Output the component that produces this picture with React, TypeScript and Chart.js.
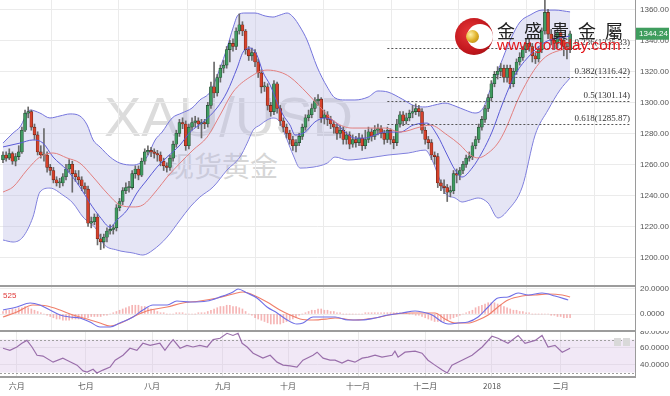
import React, { useEffect, useRef } from 'react';
import { Chart, registerables } from 'chart.js';
Chart.register(...registerables);

// ---------- data ----------
const FIRST_OPEN = 1263;
const closes = [
  1266,1264,1267,1262,1265,1268,1282,1293,1294,1284,
  1279,1268,1266,1266,1258,1256,1250,1248,1248,1252,
  1257,1260,1254,1252,1250,1246,1244,1222,1223,1226,
  1212,1210,1213,1217,1218,1219,1232,1236,1243,1245,
  1245,1254,1257,1253,1262,1268,1269,1268,1267,1266,
  1262,1259,1258,1264,1273,1280,1287,1286,1272,1284,
  1287,1288,1286,1287,1286,1298,1310,1306,1316,1322,
  1324,1334,1338,1336,1346,1350,1346,1334,1330,1332,
  1326,1319,1310,1310,1298,1294,1312,1296,1288,1284,
  1280,1276,1272,1274,1278,1284,1290,1292,1296,1301,
  1302,1290,1292,1289,1286,1284,1280,1282,1276,1279,
  1273,1276,1274,1277,1272,1276,1281,1278,1282,1283,
  1280,1276,1282,1276,1274,1286,1292,1288,1290,1293,
  1294,1296,1294,1282,1276,1274,1266,1265,1248,1246,
  1245,1242,1243,1254,1253,1256,1260,1264,1265,1272,
  1276,1284,1289,1296,1303,1312,1318,1320,1322,1316,
  1322,1312,1320,1326,1329,1334,1338,1336,1330,1328,
  1334,1346,1358,1344,1340,1338,1345,1340,1336,1334,
  1344.24,
];
const highs = [
  1268,1268,1270,1268,1267,1272,1284,1295,1297,1295,
  1286,1281,1272,1283,1268,1260,1258,1252,1251,1254,
  1260,1263,1262,1256,1256,1252,1248,1246,1226,1228,
  1228,1215,1215,1219,1221,1221,1234,1238,1245,1248,
  1249,1256,1259,1259,1264,1270,1272,1271,1270,1269,
  1268,1264,1261,1266,1275,1282,1289,1290,1288,1286,
  1290,1291,1290,1289,1289,1300,1313,1326,1318,1324,
  1327,1336,1340,1341,1348,1357,1352,1347,1336,1335,
  1334,1328,1321,1313,1312,1300,1314,1313,1298,1290,
  1286,1282,1278,1276,1280,1286,1292,1295,1299,1303,
  1305,1303,1295,1294,1291,1288,1286,1285,1284,1281,
  1281,1279,1278,1280,1279,1282,1284,1283,1285,1286,
  1285,1282,1284,1283,1278,1289,1294,1294,1293,1295,
  1298,1299,1298,1296,1284,1278,1276,1268,1267,1250,
  1250,1247,1246,1256,1257,1258,1262,1266,1268,1274,
  1278,1286,1291,1298,1305,1314,1320,1323,1325,1324,
  1324,1324,1322,1328,1332,1336,1341,1341,1338,1332,
  1336,1348,1366,1360,1347,1343,1348,1347,1342,1338,
  1346,
];
const lows = [
  1261,1262,1263,1260,1259,1263,1267,1281,1290,1282,
  1276,1266,1264,1262,1255,1253,1248,1246,1245,1246,
  1250,1255,1242,1249,1247,1243,1241,1220,1219,1221,
  1208,1205,1206,1210,1215,1215,1217,1230,1234,1241,
  1242,1244,1251,1250,1252,1260,1266,1265,1264,1262,
  1259,1256,1255,1256,1262,1271,1278,1283,1269,1270,
  1282,1284,1283,1277,1283,1284,1296,1303,1304,1313,
  1319,1322,1326,1333,1334,1344,1343,1331,1327,1327,
  1323,1316,1306,1307,1295,1291,1292,1293,1285,1281,
  1277,1273,1269,1268,1272,1276,1282,1288,1290,1294,
  1298,1287,1286,1285,1283,1280,1276,1277,1273,1273,
  1270,1271,1271,1272,1269,1270,1274,1275,1276,1279,
  1277,1273,1274,1273,1270,1272,1284,1285,1286,1288,
  1290,1292,1291,1280,1273,1270,1263,1260,1245,1243,
  1241,1236,1239,1241,1248,1250,1254,1258,1262,1263,
  1270,1274,1282,1287,1294,1301,1310,1315,1317,1313,
  1313,1309,1310,1318,1324,1327,1332,1333,1326,1325,
  1326,1332,1344,1341,1337,1334,1335,1337,1330,1328,
  1332,
];

// Bollinger upper / lower, middle (red) and short MA (blue): [candle index, price]
const bbUpperIdx = [0,3.2,5.4,8.6,11.7,14.9,18.1,21.3,24.4,26.7,28.6,30.8,34,37.1,41.3,43.5,45.7,48.3,50.5,53.7,56.8,60,62.5,65.7,68.9,71.1,73,74.6,76.8,80,83.2,85.7,87.9,90.2,92.1,94.3,96.5,99.7,102.9,105.4,108.6,111.7,115.9,119,122.2,126.7,130.8,134,137.1,140.3,143.5,146.7,149.8,152.4,154.6,157.8,161,164.1,167.3,171.1,175.2,180];
const bbUpperVal = [1273.7,1280.2,1284.1,1295,1293.1,1289.9,1291.2,1292.5,1291.2,1285.4,1275.7,1271.2,1264.7,1260.8,1259.5,1260.8,1264.7,1275.7,1280.8,1289.9,1293.1,1296.3,1301.5,1306.6,1322.1,1335,1347.9,1356.3,1357.6,1357.6,1355.7,1355,1356.3,1357.6,1355,1348.6,1340.2,1322.8,1309.9,1302.8,1301.5,1301.5,1303.4,1307.3,1306.6,1302.1,1297.6,1297,1298.3,1299.5,1297.6,1295,1293.1,1296.3,1307.9,1324,1340.2,1351.8,1356.3,1359.5,1359.5,1358.3];
const bbLowerIdx = [0,3.2,6.3,9.5,11.7,14.9,19,22.2,25.4,29.8,31.7,36.2,41.3,44.4,47.6,52.1,56.2,59.4,62.5,66.7,71.1,75.2,77.5,79.4,81.6,83.8,85.7,87.9,90.2,92.1,94.3,98.4,102.9,105.4,109.5,115.9,122.2,128.6,134,136.2,138.1,140.3,143.5,145.7,148.3,150.8,154,157.1,160.3,164.8,168.9,173,176.8,180];
const bbLowerVal = [1211.2,1209.9,1213.1,1226,1242.1,1244.7,1240.2,1235,1226,1217.6,1209.2,1204.7,1202.8,1201.5,1204.7,1213.1,1224.1,1232.5,1238.9,1245.4,1256.3,1264.7,1273.7,1282.1,1285.4,1288.6,1289.9,1287.3,1275.7,1266,1257.6,1258.2,1260.8,1264.7,1262.8,1264.1,1266,1267.3,1269.2,1262.8,1253.1,1241.5,1238.3,1235.7,1237,1238.3,1235,1225.4,1230.5,1245.4,1279,1295.1,1308,1315.7];
const bbMidIdx = [0,3.2,7.6,11.7,15.9,20.3,24.4,28.6,33,37.1,41.3,44.4,48.9,52.1,56.2,60.3,64.8,68.9,73,78.4,83.8,87.9,91.1,96.5,100.6,105.4,110.8,121.3,126,132.4,135.6,141,145.1,148.3,150.8,154,157.1,159.4,164.1,171.1,180];
const bbMidVal = [1242.1,1245.4,1256.3,1264.7,1267.3,1264.1,1260.8,1251.8,1241.5,1233.8,1232.5,1233.8,1243.5,1251.8,1260.8,1269.2,1277.6,1291.8,1306.6,1316.3,1320.8,1319.5,1316.3,1306,1297,1287.3,1283.4,1283.4,1280.8,1284.1,1285.3,1278.9,1272.5,1266,1264.1,1267.3,1273.7,1282.1,1304.7,1327.3,1335.7];
const maFastIdx = [0,5.4,9.5,12.7,15.9,20.3,24.4,27.6,30.8,34,36.2,39.4,42.5,45.7,48.9,52.1,56.2,59.4,63.5,67.9,71.1,74.3,76.2,78.4,80.6,82.5,84.8,87,88.9,91.1,92.7,95.9,99,102.2,105.4,108.6,111.7,114.9,118.1,121.3,126,130.2,134.6,137.8,141,143.5,145.7,148.9,152.1,155.2,158.4,162.5,167.3,172.1,176.8,180];
const maFastVal = [1271.2,1273.7,1275.7,1273.7,1264.7,1256.3,1245.4,1235,1226,1219.5,1224.1,1230.5,1241.5,1249.9,1258.2,1264.7,1272.5,1280.8,1287.3,1296.3,1306.6,1322.1,1332.4,1335,1330.5,1319.5,1311.1,1300.1,1291.8,1285.3,1278.9,1280.8,1287.3,1289.9,1287.3,1280.8,1276.9,1276.9,1278.9,1280.8,1280.8,1285.3,1286.6,1278.9,1266,1256.3,1251.8,1257.6,1267.9,1280.8,1298.3,1317.6,1330.5,1338.9,1341.5,1342.8];

// MACD
const macdIdx = [0,4.4,8.6,11.7,14.9,18.1,21.3,24.4,27.6,30.8,34,37.1,41.3,44.4,47.6,52.1,55.2,59.4,64.8,68.9,73,74.6,77.5,80.6,83.8,87,90.2,93.3,95.2,98.4,101.6,105.4,109.5,114,118.1,122.2,126.7,130.8,133,136.2,139.4,141.3,144.4,147.6,150.8,154,157.1,160.3,163.5,166.7,171.1,175.2,179.4];
const macdVal = [3.2,5.6,8.8,7.2,3.2,-0.8,-2.4,-3.2,-6.4,-10.4,-10.4,-7.2,-2.4,3.2,7.2,7.2,10.4,9.6,10.4,13.6,17.6,20,16.8,12.8,5.6,0.8,-4.8,-8,-7.2,-2.4,-2.4,-2.4,-4.8,-4.8,-3.2,-0.8,0.8,2.4,1.6,-0.8,-6.4,-8,-7.2,-6.4,-2.4,5.6,12.8,13.6,16.8,15.2,16.8,14.4,11.2];
const signalIdx = [0,4.4,9.5,14,18.1,22.2,26.7,30.8,34,38.1,42.5,46.7,52.1,57.1,62.5,68,73,76.2,79.4,83.8,87.9,91.1,94.3,98.4,102.9,105.4,111.7,118.1,124.4,129.8,134,137.1,140.3,143.5,147.6,150.8,154,157.1,160.3,164.8,168.9,173,177.5,180];
const signalVal = [-2.4,1.6,7.2,6.4,3.2,-0.8,-4,-7.2,-9.6,-6.4,-0.8,3.2,5.6,8.8,10.4,12.8,16,17.6,15.2,9.6,3.2,-0.8,-4,-4.8,-4,-3.2,-4.8,-3.2,0,0.8,0.8,0.8,-4,-7.2,-7.2,-4.8,-0.8,5.6,11.2,14.4,15.2,16,15.2,13.6];
const histogram = [
  2,3,3,4,4,5,5,6,5,4,
  3,2,1,0,-1,-2,-3,-4,-4,-5,
  -5,-5,-4,-4,-4,-3,-3,-3,-2,-2,
  -2,-2,-1,-1,0,1,2,3,4,5,
  6,7,7,7,6,6,5,4,3,2,
  1,1,0,0,0,1,1,1,0,0,
  0,0,1,1,1,2,3,4,5,6,
  6,7,7,6,6,5,4,2,0,-1,
  -3,-4,-5,-6,-7,-8,-8,-8,-8,-7,
  -6,-5,-4,-3,-1,0,1,2,3,3,
  4,4,3,3,2,2,1,1,0,0,
  0,0,0,0,0,1,1,1,1,1,
  1,1,1,1,1,1,1,1,1,0,
  0,-1,-1,-2,-3,-4,-5,-6,-6,-6,
  -6,-5,-4,-3,-2,-1,0,1,2,3,
  5,6,7,8,9,9,9,8,7,6,
  5,4,3,3,2,2,1,1,0,0,
  0,0,0,0,-1,-1,-2,-2,-3,-3,-3,
];

// RSI
const rsiIdx = [0,2.2,4.4,6,7.6,9.2,10.8,12.7,15.9,19,20.3,23.5,25.4,26.7,28.6,29.8,31.7,34,35.6,38.1,40.3,42.5,44.4,46.7,49.8,51.4,53,54,56.2,58.4,60.3,62.5,64.8,66.7,68.9,71.1,73,74.6,75.9,77.5,79.4,82.5,84.8,87,88.9,91.1,93.3,95.2,98.4,99.7,101.6,103.8,105.4,107.6,109.5,111.7,114,115.9,118.1,120.3,123.5,124.4,125.4,127.6,130.8,133,134.9,137.1,139.4,141,142.5,145.7,148.9,152.1,155.2,157.1,160.3,163.5,165.7,168.9,171.1,173,175.2,177.5,180];
const rsiVal = [59.5,57,61,65.5,69,61,51,50,42.6,47.5,45,39,32,30.6,34,29.4,33,36.6,45,51,59.5,57,65.5,63,65.5,57,65.5,70,59.5,63,61,63,61,70,71.6,77.6,75,77.6,65.5,61,53.5,47.5,51,42.6,39,38,36.6,45,51,54.7,47.5,45,45,41.4,45,42.6,47.5,48.7,51,48.7,51,55.9,48.7,54.7,55.9,53.5,45,39,33,29.4,39,45,51,61,74,71.6,65.5,75,65.5,69,75,61,63,54.7,59.5];
const RSI_BAND = [30, 70];

// axis / annotation values
const monthPos = [4.4, 26.3, 47.3, 69.8, 90.5, 112.7, 134, 155.2, 177];
const monthLabels = ['六月', '七月', '八月', '九月', '十月', '十一月', '十二月', '2018', '二月'];
const priceTicks = [1200, 1220, 1240, 1260, 1280, 1300, 1320, 1340, 1360];
const macdTicks = [0, 20];
const rsiTicks = [40, 60, 80];
const fibRatios = ['0.236', '0.382', '0.5', '0.618'];
const fibValues = [1335.33, 1316.42, 1301.14, 1285.87];
const FIB_START = 122;

const X_MIN = -0.95;
const X_MAX = 200.6;

const pts = (xs: number[], ys: number[]) => xs.map((x, i) => ({ x, y: ys[i] }));

const xScale = (labels: boolean) => ({
  type: 'linear', min: X_MIN, max: X_MAX, offset: false,
  afterBuildTicks: (s: any) => { s.ticks = monthPos.map((v) => ({ value: v })); },
  grid: { color: '#ebebeb', drawTicks: false, lineWidth: 1 },
  border: { display: false },
  ticks: {
    display: labels, autoSkip: false, maxRotation: 0, padding: 4, color: '#555',
    font: { size: 8, family: '"Noto Sans CJK SC", "Liberation Sans", sans-serif' },
    callback: (_v: any, i: number) => monthLabels[i],
  },
  afterFit: (s: any) => { s.height = labels ? 19 : 0; s.paddingLeft = 0; s.paddingRight = 0; },
});

const yScale = (min: number, max: number, ticks: number[], digits: number) => ({
  type: 'linear', position: 'right', min, max,
  afterBuildTicks: (s: any) => { s.ticks = ticks.map((v) => ({ value: v })); },
  grid: { color: '#ebebeb', drawTicks: false },
  border: { display: true, color: '#9a9a9a' },
  ticks: {
    color: '#555', padding: 5,
    font: { size: 8, family: '"Liberation Sans", Arial, sans-serif' },
    callback: (v: any) => Number(v).toFixed(digits),
  },
  afterFit: (s: any) => { s.width = 35; s.paddingTop = 0; s.paddingBottom = 0; },
});

const baseOptions = {
  responsive: false, animation: false, events: [],
  layout: { padding: 0 },
  plugins: { legend: { display: false }, tooltip: { enabled: false } },
};

export default function App() {
  const mainRef = useRef<HTMLCanvasElement>(null);
  const macdRef = useRef<HTMLCanvasElement>(null);
  const rsiRef = useRef<HTMLCanvasElement>(null);

  useEffect(() => {
    const opens = closes.map((_c, i) => (i === 0 ? FIRST_OPEN : closes[i - 1]));
    const up = closes.map((c, i) => c >= opens[i]);

    const fibPlugin = {
      id: 'fib',
      afterDatasetsDraw(chart: any) {
        const { ctx, chartArea: a, scales } = chart;
        const x0 = scales.x.getPixelForValue(FIB_START);
        const x1 = a.right - 5;
        ctx.save();
        fibValues.forEach((v, i) => {
          const y = Math.round(scales.y.getPixelForValue(v)) + 0.5;
          ctx.strokeStyle = '#555';
          ctx.lineWidth = 1;
          ctx.setLineDash([2, 2]);
          ctx.beginPath(); ctx.moveTo(x0, y); ctx.lineTo(x1, y); ctx.stroke();
          ctx.setLineDash([]);
          ctx.fillStyle = '#333';
          ctx.font = '9px "Liberation Serif", serif';
          ctx.textAlign = 'right';
          ctx.textBaseline = 'bottom';
          ctx.fillText(`${fibRatios[i]}(${v.toFixed(2)})`, x1, y - 1);
        });
        const last = closes[closes.length - 1];
        const yp = scales.y.getPixelForValue(last);
        ctx.fillStyle = '#3f9d5e';
        ctx.fillRect(a.right + 1, yp - 6, 33, 12);
        ctx.fillStyle = '#fff';
        ctx.font = '8px "Liberation Sans", Arial, sans-serif';
        ctx.textAlign = 'left';
        ctx.textBaseline = 'middle';
        ctx.fillText(last.toFixed(2), a.right + 4, yp);
        ctx.restore();
      },
    };

    const main = new Chart(mainRef.current as any, {
      type: 'bar',
      data: {
        datasets: [
          { type: 'line', data: pts(bbUpperIdx, bbUpperVal), borderColor: '#7474dc', borderWidth: 1, pointRadius: 0, cubicInterpolationMode: 'monotone', fill: '+1', backgroundColor: 'rgba(182,182,226,0.36)', order: 10 },
          { type: 'line', data: pts(bbLowerIdx, bbLowerVal), borderColor: '#7474dc', borderWidth: 1, pointRadius: 0, cubicInterpolationMode: 'monotone', fill: false, order: 10 },
          { type: 'bar', data: closes.map((_c, i) => ({ x: i, y: [lows[i], highs[i]] })), backgroundColor: '#6a6a6a', barThickness: 1, grouped: false, order: 6 } as any,
          { type: 'bar', data: closes.map((c, i) => ({ x: i, y: [opens[i], c] })), backgroundColor: up.map((u) => (u ? '#3f9a60' : '#d6412b')), borderColor: up.map((u) => (u ? '#24452f' : '#5e2418')), borderWidth: 0.6, borderSkipped: false, barThickness: 3, grouped: false, minBarLength: 1, order: 5 } as any,
          { type: 'line', data: pts(bbMidIdx, bbMidVal), borderColor: '#e27f7f', borderWidth: 1, pointRadius: 0, cubicInterpolationMode: 'monotone', fill: false, order: 1 },
          { type: 'line', data: pts(maFastIdx, maFastVal), borderColor: '#5a5ad6', borderWidth: 1, pointRadius: 0, cubicInterpolationMode: 'monotone', fill: false, order: 1 },
        ],
      },
      options: { ...baseOptions, scales: { x: xScale(false), y: yScale(1181.5, 1366, priceTicks, 2) } } as any,
      plugins: [fibPlugin],
    });

    const macd = new Chart(macdRef.current as any, {
      type: 'bar',
      data: {
        datasets: [
          { type: 'bar', data: histogram.map((h, i) => ({ x: i, y: h })), backgroundColor: 'rgba(236,120,120,0.55)', barThickness: 1, grouped: false, order: 5 } as any,
          { type: 'line', data: pts(macdIdx, macdVal), borderColor: '#6f6fe6', borderWidth: 1.1, pointRadius: 0, cubicInterpolationMode: 'monotone', fill: false, order: 1 },
          { type: 'line', data: pts(signalIdx, signalVal), borderColor: '#f07f6a', borderWidth: 1.1, pointRadius: 0, cubicInterpolationMode: 'monotone', fill: false, order: 2 },
        ],
      },
      options: { ...baseOptions, scales: { x: xScale(false), y: yScale(-13.6, 22.4, macdTicks, 4) } } as any,
    });

    const bandPlugin = {
      id: 'rsiBand',
      beforeDatasetsDraw(chart: any) {
        const { ctx, chartArea: a, scales } = chart;
        const t = scales.y.getPixelForValue(RSI_BAND[1]);
        const b = scales.y.getPixelForValue(RSI_BAND[0]);
        ctx.save();
        ctx.fillStyle = 'rgba(214,188,228,0.35)';
        ctx.fillRect(a.left, t, a.right - a.left, b - t);
        ctx.strokeStyle = '#a0a0a0';
        ctx.setLineDash([2, 2]);
        ctx.lineWidth = 1;
        [t, b].forEach((y) => {
          ctx.beginPath(); ctx.moveTo(a.left, Math.round(y) + 0.5); ctx.lineTo(a.right, Math.round(y) + 0.5); ctx.stroke();
        });
        ctx.restore();
      },
    };

    const rsi = new Chart(rsiRef.current as any, {
      type: 'line',
      data: {
        datasets: [
          { data: pts(rsiIdx, rsiVal), borderColor: '#9a6fab', borderWidth: 1.2, pointRadius: 0, fill: false, tension: 0 },
        ],
      },
      options: { ...baseOptions, scales: { x: xScale(true), y: yScale(24.6, 80.4, rsiTicks, 4) } } as any,
      plugins: [bandPlugin],
    });

    return () => { main.destroy(); macd.destroy(); rsi.destroy(); };
  }, []);

  const sep = (top: number) => (
    <div style={{ position: 'absolute', left: 0, top, width: 636, height: 2, background: '#9c9c9c' }} />
  );

  return (
    <div style={{ position: 'fixed', left: 0, top: 0, width: 670, height: 396, background: '#fff', overflow: 'hidden' }}>
      {/* watermark (behind the candles) */}
      <div style={{ position: 'absolute', left: 104, top: 89, fontFamily: '"Liberation Sans", Arial, sans-serif', fontSize: 56, lineHeight: 1, color: '#dcdcdc', whiteSpace: 'nowrap' }}>XAU/USD</div>
      <div style={{ position: 'absolute', left: 166, top: 151, fontFamily: '"Noto Sans CJK SC", sans-serif', fontSize: 28, lineHeight: 1, color: '#d6d6d6', whiteSpace: 'nowrap' }}>现货黄金</div>

      <canvas ref={mainRef} width={670} height={286} style={{ position: 'absolute', left: 0, top: 0 }} />
      <canvas ref={macdRef} width={670} height={45} style={{ position: 'absolute', left: 0, top: 286 }} />
      <canvas ref={rsiRef} width={670} height={65} style={{ position: 'absolute', left: 0, top: 331 }} />
      {sep(285)}
      {sep(330)}
      {sep(376)}

      <div style={{ position: 'absolute', left: 3, top: 291, fontFamily: '"Liberation Sans", Arial, sans-serif', fontSize: 8, color: '#e03a3a' }}>525</div>
      <div style={{ position: 'absolute', left: 614, top: 338, width: 7, height: 8, background: '#d9d9d9' }} />
      <div style={{ position: 'absolute', left: 623, top: 338, width: 7, height: 8, background: '#d9d9d9' }} />

      {/* logo */}
      <div style={{ position: 'absolute', left: 455, top: 18, width: 38, height: 37, borderRadius: '50%', background: 'radial-gradient(circle at 40% 40%, #e8383a 0%, #c0161c 60%, #8e0d10 100%)' }} />
      <div style={{ position: 'absolute', left: 467, top: 24, width: 26, height: 25, borderRadius: '50%', background: '#fff' }} />
      <div style={{ position: 'absolute', left: 466, top: 30, width: 13, height: 13, borderRadius: '50%', background: 'radial-gradient(circle at 35% 35%, #fff2a8 0%, #e0b22a 50%, #a6780c 100%)' }} />
      <div style={{ position: 'absolute', left: 497, top: 21, fontFamily: '"Noto Sans CJK TC", sans-serif', fontSize: 18, lineHeight: 1, letterSpacing: 9, color: '#222', whiteSpace: 'nowrap' }}>金盛貴金屬</div>
      <div style={{ position: 'absolute', left: 497, top: 37, fontFamily: '"Liberation Sans", Arial, sans-serif', fontSize: 15.5, lineHeight: 1, color: '#e5161b', whiteSpace: 'nowrap' }}>www.goldday.com</div>
    </div>
  );
}
